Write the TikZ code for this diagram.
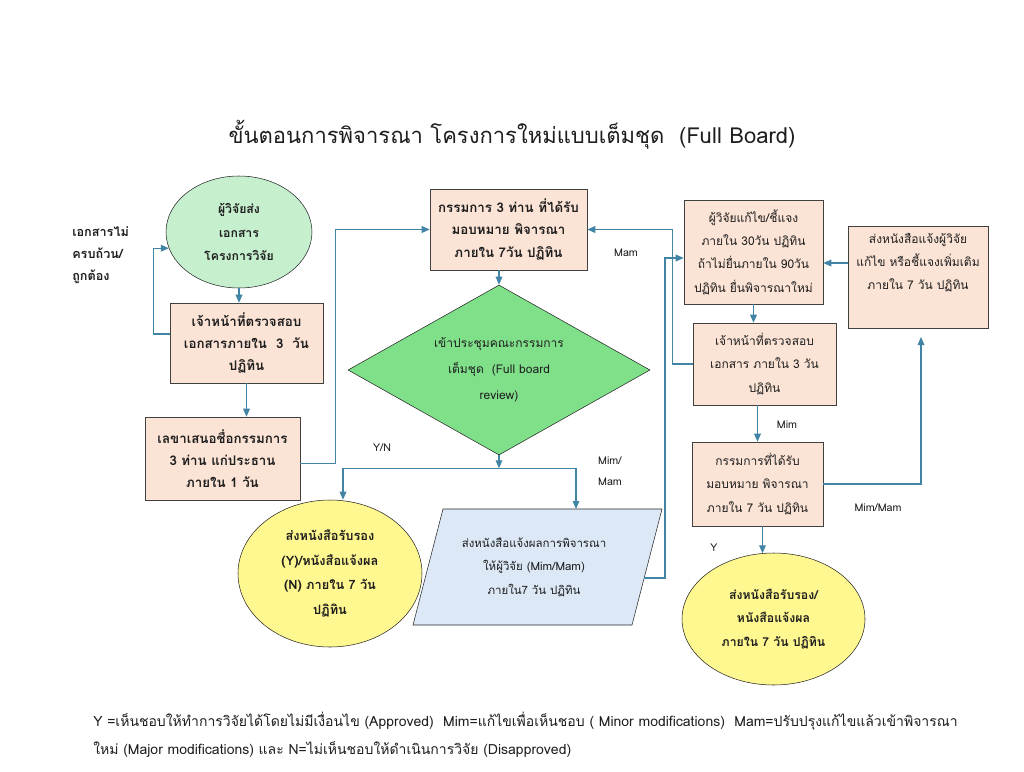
\documentclass[tikz,border=0pt]{standalone}
\usepackage{fontspec}
\setmainfont[Script=Thai]{Loma}
\usetikzlibrary{shapes.geometric,arrows.meta}
\definecolor{pesca}{RGB}{251,228,214}
\definecolor{verdino}{RGB}{198,239,206}
\definecolor{verderombo}{RGB}{128,224,138}
\definecolor{giallino}{RGB}{255,247,143}
\definecolor{azzurrino}{RGB}{220,232,246}
\definecolor{linea}{RGB}{66,132,166}
\definecolor{testo}{RGB}{30,30,30}
\newcommand{\upx}{0.75pt}
\begin{document}
\begin{tikzpicture}[x=0.75pt,y=-0.75pt,
    box/.style={draw=black!75,fill=pesca,align=center,inner sep=0pt,text=testo,font=\fontsize{9}{17.5}\selectfont},
    ellisse/.style={ellipse,draw=black!85,align=center,inner sep=0pt,text=testo,font=\bfseries\fontsize{9.2}{17.5}\selectfont},
    rombo/.style={diamond,shape aspect=1.78,draw=black!85,fill=verderombo,align=center,inner sep=0pt,text=testo,font=\fontsize{9}{19.5}\selectfont},
    etichetta/.style={text=testo,inner sep=0pt,font=\fontsize{8}{16}\selectfont},
    freccia/.style={draw=linea,line width=0.9pt,-{Triangle[length=6pt,width=5pt]}}]
  \useasboundingbox[fill=white] (0,0) rectangle (1024,771);
  %titolo
  \node[text=testo,font=\fontsize{16.5}{20}\selectfont] (titolo) at (512,135) {ขั้นตอนการพิจารณา โครงการใหม่แบบเต็มชุด~ (Full Board)};
  %colonna sinistra
  \node[ellisse,fill=verdino,minimum width=146*\upx,minimum height=112*\upx] (invio) at (239,232) {ผู้วิจัยส่ง\\เอกสาร\\โครงการวิจัย};
  \node[box,font=\bfseries\fontsize{10}{16.5}\selectfont,minimum width=153*\upx,minimum height=80*\upx] (verifica) at (246.5,343) {เจ้าหน้าที่ตรวจสอบ\\เอกสารภายใน~ 3~ วัน\\ปฏิทิน};
  \node[box,font=\bfseries\fontsize{10}{16.5}\selectfont,minimum width=155*\upx,minimum height=83*\upx] (segretario) at (222.5,458.5) {เลขาเสนอชื่อกรรมการ\\3 ท่าน แก่ประธาน\\ภายใน 1 วัน};
  \node[etichetta,font=\bfseries\fontsize{9.5}{16.5}\selectfont,align=left,anchor=west] (mancante) at (72,255) {เอกสารไม่\\ครบถ้วน/\\ถูกต้อง};
  %centro
  \node[box,font=\bfseries\fontsize{10}{17}\selectfont,minimum width=157*\upx,minimum height=81*\upx] (comitato) at (508.5,229.5) {กรรมการ 3 ท่าน ที่ได้รับ\\มอบหมาย พิจารณา\\ภายใน 7วัน ปฏิทิน};
  \node[rombo,minimum width=302*\upx,minimum height=170*\upx] (riunione) at (499,370) {เข้าประชุมคณะกรรมการ\\เต็มชุด~ (Full board\\review)};
  \node[ellisse,fill=giallino,minimum width=184*\upx,minimum height=147*\upx,font=\bfseries\fontsize{9.6}{18.5}\selectfont] (esitoA) at (330,573.5) {ส่งหนังสือรับรอง\\(Y)/หนังสือแจ้งผล\\(N) ภายใน 7 วัน\\ปฏิทิน};
  \draw[draw=black!85,fill=azzurrino] (443,509) -- (662,509) -- (632,625) -- (413,625) -- cycle;
  \node[align=center,inner sep=0pt,text=testo,font=\fontsize{8.6}{17.5}\selectfont] (avviso) at (534,567) {ส่งหนังสือแจ้งผลการพิจารณา\\ให้ผู้วิจัย (Mim/Mam)\\ภายใน7 วัน ปฏิทิน};
  \coordinate (avvisoN) at (576,509);
  \coordinate (avvisoE) at (644,578);
  %colonna destra
  \node[box,minimum width=139*\upx,minimum height=104*\upx] (correzione) at (753.5,252) {ผู้วิจัยแก้ไข/ชี้แจง\\ภายใน 30วัน ปฏิทิน\\ถ้าไม่ยื่นภายใน 90วัน\\ปฏิทิน ยื่นพิจารณาใหม่};
  \node[box,minimum width=143*\upx,minimum height=82*\upx] (verifica2) at (764.5,364) {เจ้าหน้าที่ตรวจสอบ\\เอกสาร ภายใน 3 วัน\\ปฏิทิน};
  \node[box,minimum width=140*\upx,minimum height=102*\upx] (lettera) at (918,277) {ส่งหนังสือแจ้งผู้วิจัย\\แก้ไข หรือชี้แจงเพิ่มเติม\\ภายใน 7 วัน ปฏิทิน\\[6pt]};
  \node[box,minimum width=131*\upx,minimum height=84*\upx] (revisori) at (757.5,484) {กรรมการที่ได้รับ\\มอบหมาย พิจารณา\\ภายใน 7 วัน ปฏิทิน};
  \node[ellisse,fill=giallino,minimum width=183*\upx,minimum height=132*\upx] (esitoB) at (773.5,619) {ส่งหนังสือรับรอง/\\หนังสือแจ้งผล\\ภายใน 7 วัน ปฏิทิน};
  \coordinate (letteraS) at (921,337);
  %frecce
  \draw[freccia] (invio.south) -- (invio.south |- verifica.north);
  \draw[freccia] (verifica.south) -- (verifica.south |- segretario.north);
  \draw[freccia] ([yshift=9*\upx]verifica.west) -- ++(-16,0) |- (invio.193);
  \draw[freccia] ([yshift=-5*\upx]segretario.east) -- ++(35,0) |- (comitato.west);
  \draw[freccia] (comitato.south -| riunione.north) -- (riunione.north);
  \draw[freccia] (riunione.south) -- ++(0,13) coordinate (bivio);
  \draw[freccia] (bivio) -| ([xshift=13*\upx]esitoA.north);
  \draw[freccia] (bivio) -| (avvisoN);
  \draw[freccia] (avvisoE) -- ++(21,0) |- ([yshift=-6*\upx]correzione.west);
  \draw[freccia] (verifica2.west) -- ++(-20,0) |- (comitato.east);
  \draw[freccia] (correzione.south) -- (correzione.south |- verifica2.north);
  \draw[freccia] ([yshift=14*\upx]lettera.west) coordinate (l1) -- (l1 -| correzione.east);
  \draw[freccia] (revisori.north |- verifica2.south) -- (revisori.north);
  \draw[freccia] (revisori.east) -| (letteraS);
  \draw[freccia] ([xshift=5*\upx]revisori.south) -- ++(0,27);
  %etichette
  \node[etichetta] (lblYN) at (382,448) {Y/N};
  \node[etichetta,align=left] (lblMM) at (610,471) {Mim/\\Mam};
  \node[etichetta] (lblMam) at (626,253) {Mam};
  \node[etichetta] (lblMim) at (787,425) {Mim};
  \node[etichetta] (lblMM2) at (878,508) {Mim/Mam};
  \node[etichetta] (lblY) at (714,548) {Y};
  %legenda
  \node[text=testo,inner sep=0pt,anchor=north west,align=left,font=\fontsize{10.5}{21}\selectfont] (legenda) at (93,712) {Y =เห็นชอบให้ทำการวิจัยได้โดยไม่มีเงื่อนไข (Approved)~ Mim=แก้ไขเพื่อเห็นชอบ ( Minor modifications)~ Mam=ปรับปรุงแก้ไขแล้วเข้าพิจารณา\\ใหม่ (Major modifications) และ N=ไม่เห็นชอบให้ดำเนินการวิจัย (Disapproved)};
\end{tikzpicture}
\end{document}
